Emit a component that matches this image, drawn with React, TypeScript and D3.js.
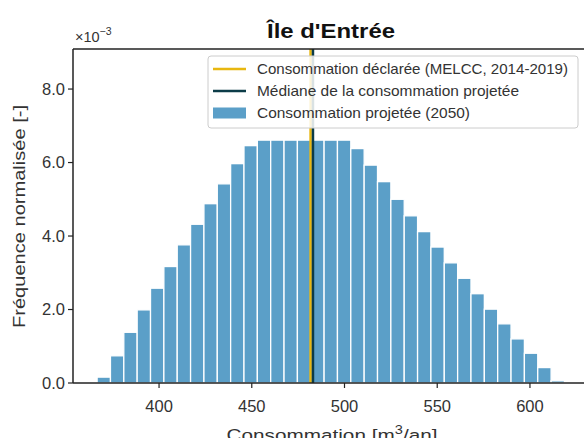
import React from 'react';
import * as d3 from 'd3';

// histogram: bin start, bin width, normalized frequency (x 10^-3)
const binStart = 366.6;
const binWidth = 7.2;
const densities = [
  0.16, 0.74, 1.38, 1.99, 2.58, 3.17, 3.76, 4.32, 4.88, 5.42, 5.97, 6.46,
  6.61, 6.61, 6.61, 6.61, 6.61, 6.61, 6.61,
  6.38, 5.93, 5.48, 5.0, 4.55, 4.12, 3.7, 3.27, 2.85, 2.43, 2.01, 1.61, 1.2, 0.81, 0.42, 0.06,
];
const declared = 481.7;
const median = 483.0;
const xTicks = [400, 450, 500, 550, 600];
const yTicks = [0, 2, 4, 6, 8];
const legendLabels = [
  'Consommation déclarée (MELCC, 2014-2019)',
  'Médiane de la consommation projetée',
  'Consommation projetée (2050)',
];

const W = 584;
const H = 438;
const margin = { top: 49, left: 73, right: 588, bottom: 383 };
const barColor = '#5b9fc8';
const yellow = '#e8b710';
const dark = '#0c3c48';
const font = '"Liberation Sans", Arial, sans-serif';

export default function App() {
  const x = d3.scaleLinear().domain([353.6, 631.3]).range([margin.left, margin.right]);
  const y = d3.scaleLinear().domain([0, 9.09]).range([margin.bottom, margin.top]);

  const bins = densities.map((d, i) => ({ x0: binStart + i * binWidth, x1: binStart + (i + 1) * binWidth, d }));

  // legend layout
  const lx = 208;
  const ly = 56;
  const rowY = [69, 91, 113];
  const rowLen = [311, 262, 213];

  return (
    <svg width={W} height={H} style={{ display: 'block', position: 'absolute', left: 0, top: 0 }} fontFamily={font}>
      <rect width={W} height={H} fill="white" />
      <g>
        {bins.map((b, i) => (
          <rect
            key={i}
            x={x(b.x0)}
            y={y(b.d)}
            width={x(b.x1) - x(b.x0)}
            height={y(0) - y(b.d)}
            fill={barColor}
            stroke="white"
            strokeWidth={1.3}
          />
        ))}
      </g>
      <line x1={x(declared)} x2={x(declared)} y1={margin.top} y2={margin.bottom} stroke={yellow} strokeWidth={2.5} />
      <line x1={x(median)} x2={x(median)} y1={margin.top} y2={margin.bottom} stroke={dark} strokeWidth={2.5} />

      {/* spines */}
      <line x1={margin.left} x2={margin.left} y1={margin.top} y2={margin.bottom} stroke="#222" strokeWidth={1.5} />
      <line x1={margin.left} x2={margin.right} y1={margin.top} y2={margin.top} stroke="#222" strokeWidth={1.5} />
      <line x1={margin.left} x2={margin.right} y1={margin.bottom} y2={margin.bottom} stroke="#222" strokeWidth={1.5} />
      <line x1={margin.right} x2={margin.right} y1={margin.top} y2={margin.bottom} stroke="#222" strokeWidth={1.5} />

      {/* x ticks */}
      {xTicks.map((t) => (
        <g key={t} transform={`translate(${x(t)},${margin.bottom})`}>
          <line y2={5} stroke="#222" strokeWidth={1.2} />
          <text y={29} textAnchor="middle" fontSize={16.5} fill="#333">{t}</text>
        </g>
      ))}
      {/* y ticks */}
      {yTicks.map((t) => (
        <g key={t} transform={`translate(${margin.left},${y(t)})`}>
          <line x2={-5} stroke="#222" strokeWidth={1.2} />
          <text x={-8} dy="0.35em" textAnchor="end" fontSize={16.5} fill="#333">{t.toFixed(1)}</text>
        </g>
      ))}
      <text x={75} y={42} fontSize={14.5} fill="#333">
        ×10<tspan dy={-7} fontSize={10.5}>−3</tspan>
      </text>

      <text x={331} y={38} textAnchor="middle" fontSize={19.5} fontWeight="bold" fill="#111" textLength={128} lengthAdjust="spacingAndGlyphs">
        Île d'Entrée
      </text>
      <text transform="translate(25,216.5) rotate(-90)" textAnchor="middle" fontSize={16} fill="#333" textLength={223} lengthAdjust="spacingAndGlyphs">
        Fréquence normalisée [-]
      </text>
      <g transform="translate(332,441) scale(1.22,1)">
        <text textAnchor="middle" fontSize={17} fill="#333">
          Consommation [m<tspan dy={-7} fontSize={12}>3</tspan><tspan dy={7}>/an]</tspan>
        </text>
      </g>

      {/* legend */}
      <rect x={lx} y={ly} width={370} height={72} rx={3} fill="white" fillOpacity={0.85} stroke="#ccc" strokeWidth={1} />
      <line x1={213} x2={246} y1={rowY[0]} y2={rowY[0]} stroke={yellow} strokeWidth={2.5} />
      <line x1={213} x2={246} y1={rowY[1]} y2={rowY[1]} stroke={dark} strokeWidth={2.5} />
      <rect x={213} y={rowY[2] - 5.5} width={33} height={11} fill={barColor} />
      {legendLabels.map((l, i) => (
        <text key={l} x={257} y={rowY[i]} dy="0.35em" fontSize={14.5} fill="#333" textLength={rowLen[i]} lengthAdjust="spacingAndGlyphs">{l}</text>
      ))}
    </svg>
  );
}
